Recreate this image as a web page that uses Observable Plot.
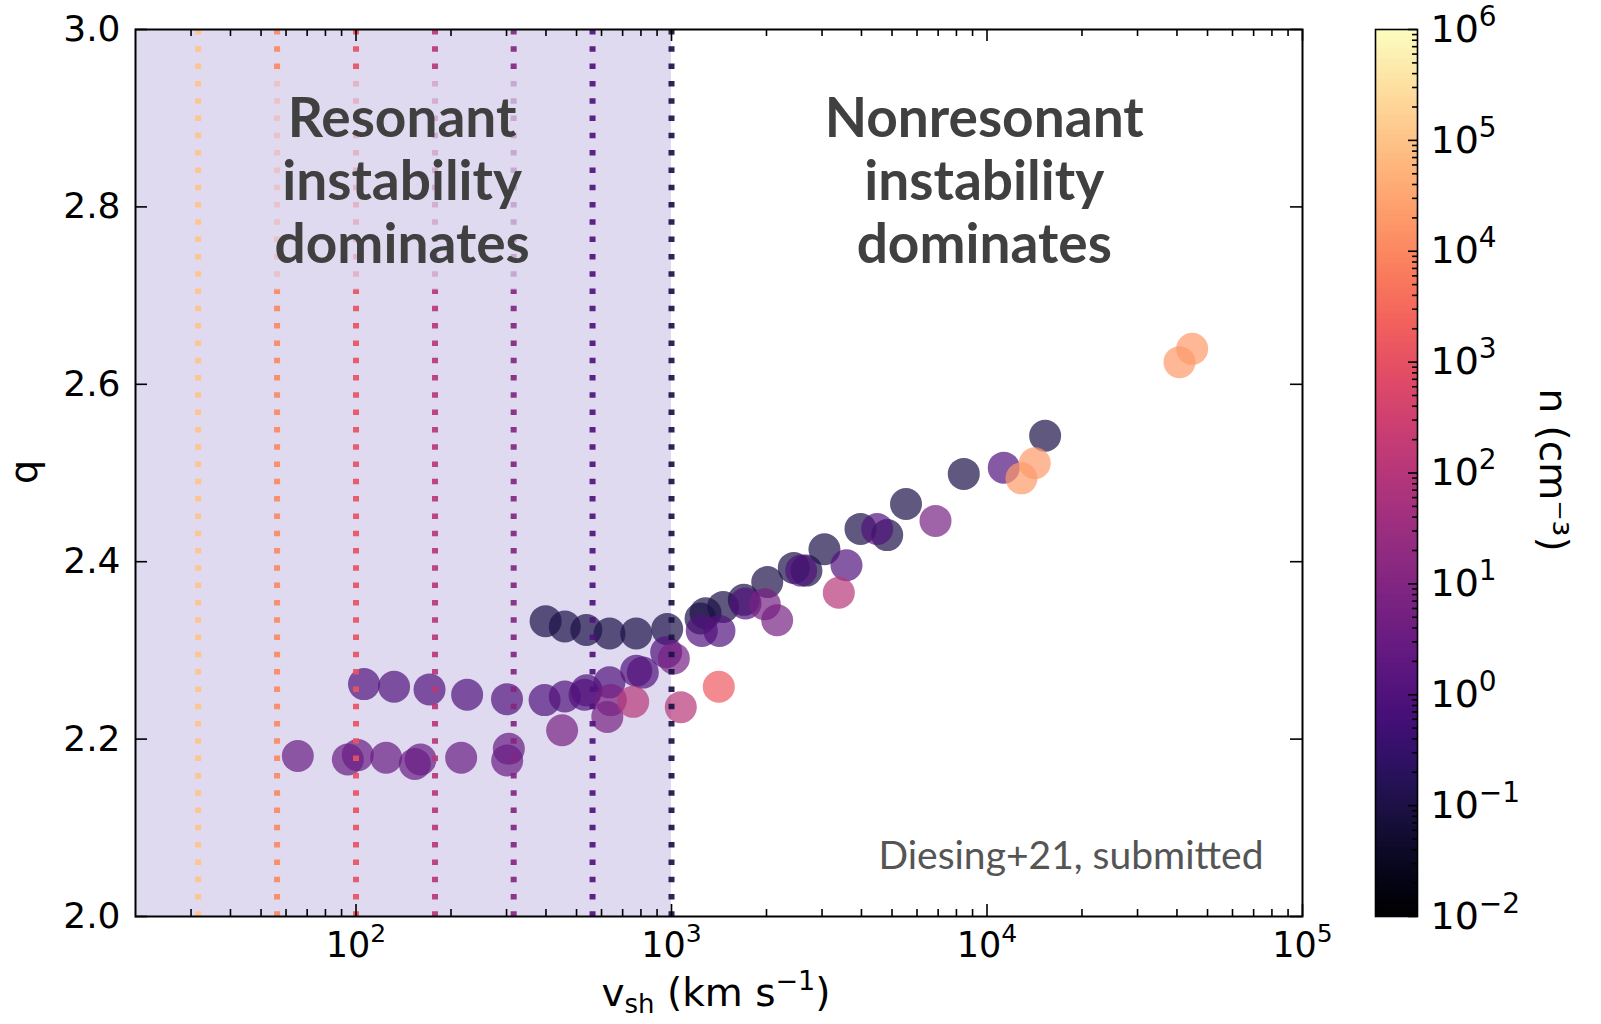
<!DOCTYPE html>
<html>
<head>
<meta charset="utf-8">
<script src="https://cdn.jsdelivr.net/npm/d3@7"></script>
<script src="https://cdn.jsdelivr.net/npm/@observablehq/plot@0.6"></script>
<style>
  html, body { margin: 0; padding: 0; background: #ffffff; }
  #chart { position: relative; width: 1601px; height: 1024px; overflow: hidden; }
  #chart svg { position: absolute; top: 0; }
</style>
</head>
<body>
<div id="chart"></div>
<script>
// Spectral index q versus shock velocity v_sh, one series per upstream density n (cm^-3)
const n01 = 0.1;
const v_n01 = [399, 459, 537, 636, 773, 969, 1236, 1282, 1458, 1695, 2011, 2441, 2677, 3053, 3972, 4827, 5537, 8441, 15284];
const q_n01 = [2.333, 2.327, 2.323, 2.319, 2.319, 2.324, 2.336, 2.342, 2.349, 2.357, 2.377, 2.393, 2.390, 2.414, 2.437, 2.430, 2.465, 2.499, 2.542];

const n1 = 1;
const v_n1 = [106, 132, 171, 225, 301, 396, 459, 538, 530, 636, 773, 811, 962, 1247, 1419, 1716, 2576, 3586, 4486, 11300];
const q_n1 = [2.262, 2.259, 2.256, 2.250, 2.245, 2.244, 2.248, 2.255, 2.250, 2.264, 2.277, 2.275, 2.298, 2.322, 2.322, 2.353, 2.390, 2.396, 2.437, 2.506];

const n3 = 3;
const v_n3 = [65.4, 94.2, 101.3, 124.6, 153.6, 160.1, 215.4, 305, 301.4];
const q_n3 = [2.181, 2.177, 2.182, 2.179, 2.172, 2.177, 2.179, 2.189, 2.176];

const n6 = 6;
const v_n6 = [450, 626, 642, 1017, 1975, 2162, 6866];
const q_n6 = [2.210, 2.225, 2.244, 2.291, 2.352, 2.334, 2.446];

const n100 = 100;
const v_n100 = [756, 1070, 3390];
const q_n100 = [2.242, 2.236, 2.365];

const n1500 = 1500;
const v_n1500 = [1412];
const q_n1500 = [2.259];

const n2e4 = 2e4;
const v_n2e4 = [12860, 14170, 40750, 44700];
const q_n2e4 = [2.494, 2.511, 2.625, 2.640];

// Resonant/nonresonant transition velocity for each density
const boundaryV = [31.6, 56.2, 100, 178, 316, 562, 1000];
const boundaryN = [1e5, 1e4, 1e3, 1e2, 1e1, 1e0, 1e-1];
const resonantSpan = [20, 1000];

// Axes
const xDomain = [20, 1e5];
const yDomain = [2.0, 3.0];
const xMajor = [100, 1000, 10000, 100000];
const xTickExp = ["2", "3", "4", "5"];
const yTicks = [2.0, 2.2, 2.4, 2.6, 2.8, 3.0];
const cbMajor = [1e-2, 1e-1, 1e0, 1e1, 1e2, 1e3, 1e4, 1e5, 1e6];
const cbTickExp = ["−2", "−1", "0", "1", "2", "3", "4", "5", "6"];

// Annotations
const resonantText = "Resonant\ninstability\ndominates";
const nonresonantText = "Nonresonant\ninstability\ndominates";
const resonantPos = [140, 2.83];
const nonresonantPos = [9800, 2.83];
const credit = "Diesing+21, submitted";

// Build the point table
const groups = [
  [n01, v_n01, q_n01], [n1, v_n1, q_n1], [n3, v_n3, q_n3], [n6, v_n6, q_n6],
  [n100, v_n100, q_n100], [n1500, v_n1500, q_n1500], [n2e4, v_n2e4, q_n2e4]
];
const points = groups.flatMap(([n, vs, qs]) => vs.map((v, i) => ({v, q: qs[i], n})));

// log-spaced minor ticks between decades
const minorBetween = (lo, hi) => {
  const out = [];
  for (let e = Math.floor(Math.log10(lo)); e < Math.ceil(Math.log10(hi)); e++) {
    for (let k = 2; k <= 9; k++) {
      const t = k * Math.pow(10, e);
      if (t > lo && t < hi) out.push(t);
    }
  }
  return out;
};
const xMinor = minorBetween(xDomain[0], xDomain[1]);
const cbMinor = minorBetween(1e-2, 1e6);

const color = {type: "log", scheme: "magma", domain: [1e-2, 1e6]};

// Layout
const W = 1340, H = 1024;
const mL = 135, mR = 38, mT = 29, mB = 108;
const frameW = W - mL - mR, frameH = H - mT - mB;
const majorLen = 12, minorLen = 7;
const tickStyle = {stroke: "black", strokeWidth: 1.6};

const main = Plot.plot({
  width: W, height: H,
  marginLeft: mL, marginRight: mR, marginTop: mT, marginBottom: mB,
  x: {type: "log", domain: xDomain},
  y: {domain: yDomain},
  color,
  style: {fontFamily: "DejaVu Sans", background: "transparent", color: "black"},
  marks: [
    Plot.rect([resonantSpan], {x1: d => d[0], x2: d => d[1], fill: "#dfdaf0"}),
    Plot.dot(points, {x: "v", y: "q", fill: "n", r: 16, fillOpacity: 0.7, stroke: null}),
    Plot.ruleX(boundaryV, {x: d => d, stroke: (d, i) => boundaryN[i], strokeWidth: 6,
      strokeDasharray: "5.5,11.8", strokeOpacity: 0.92}),
    Plot.text([resonantPos], {x: d => d[0], y: d => d[1], text: () => resonantText,
      fontFamily: "Lato", fontWeight: 700, fontSize: 55, lineHeight: 1.145, fill: "#404040",
      lineAnchor: "middle", textAnchor: "middle"}),
    Plot.text([nonresonantPos], {x: d => d[0], y: d => d[1], text: () => nonresonantText,
      fontFamily: "Lato", fontWeight: 700, fontSize: 55, lineHeight: 1.145, fill: "#404040",
      lineAnchor: "middle", textAnchor: "middle"}),
    Plot.text([credit], {text: d => d, frameAnchor: "bottom-right", dx: -39, dy: -60,
      lineAnchor: "middle", textAnchor: "end", fontFamily: "Lato", fontSize: 39, fill: "#555555"}),
    // inward ticks on all four sides
    Plot.ruleX(xMajor, {x: d => d, insetTop: frameH - majorLen, ...tickStyle}),
    Plot.ruleX(xMajor, {x: d => d, insetBottom: frameH - majorLen, ...tickStyle}),
    Plot.ruleX(xMinor, {x: d => d, insetTop: frameH - minorLen, ...tickStyle}),
    Plot.ruleX(xMinor, {x: d => d, insetBottom: frameH - minorLen, ...tickStyle}),
    Plot.ruleY(yTicks, {y: d => d, insetRight: frameW - majorLen, ...tickStyle}),
    Plot.ruleY(yTicks, {y: d => d, insetLeft: frameW - majorLen, ...tickStyle}),
    Plot.axisX({ticks: xMajor, tickFormat: d => "10^" + xTickExp[xMajor.indexOf(d)],
      tickSize: 0, tickPadding: 16, fontSize: 35, label: null}),
    Plot.axisY({ticks: yTicks, tickFormat: d => d.toFixed(1),
      tickSize: 0, tickPadding: 15, fontSize: 36, label: null}),
    Plot.frame({stroke: "black", strokeWidth: 2})
  ]
});
main.style.left = "0px";

// Colorbar strips across the density range
const cbSteps = 400;
const cbStrips = d3.range(cbSteps).map(i => {
  const a = -2 + 8 * i / cbSteps, b = -2 + 8 * (i + 1) / cbSteps;
  return {lo: Math.pow(10, a), hi: Math.pow(10, b), mid: Math.pow(10, (a + b) / 2)};
});
const cbBarW = 42;
const cb = Plot.plot({
  width: 261, height: H,
  marginLeft: 35, marginRight: 261 - 35 - cbBarW, marginTop: mT, marginBottom: mB,
  x: {domain: [0, 1], axis: null},
  y: {type: "log", domain: [1e-2, 1e6], axis: null},
  color,
  style: {fontFamily: "DejaVu Sans", background: "transparent", color: "black"},
  marks: [
    Plot.rect(cbStrips, {x1: 0, x2: 1, y1: "lo", y2: "hi", fill: "mid", shapeRendering: "crispEdges"}),
    Plot.ruleY(cbMinor, {y: d => d, insetLeft: cbBarW - 5, ...tickStyle}),
    Plot.ruleY(cbMajor, {y: d => d, insetLeft: cbBarW - 9, ...tickStyle}),
    Plot.axisY({anchor: "right", ticks: cbMajor, tickFormat: d => "10^" + cbTickExp[cbMajor.indexOf(d)],
      tickSize: 0, tickPadding: 13, fontSize: 38, label: null}),
    Plot.frame({stroke: "black", strokeWidth: 1.6})
  ]
});
cb.style.left = "1340px";

const chart = document.getElementById("chart");
chart.appendChild(main);
chart.appendChild(cb);

// Turn "10^k" tick labels into a base with a raised exponent
function superscriptTicks(svg, supSize, rise) {
  d3.select(svg).selectAll("text").each(function() {
    const s = this.textContent;
    if (!s.includes("^")) return;
    const [base, exp] = s.split("^");
    const t = d3.select(this);
    t.text(null);
    t.append("tspan").text(base);
    t.append("tspan").attr("font-size", supSize).attr("dy", -rise).text(exp);
  });
}
superscriptTicks(main, 25, 15);
superscriptTicks(cb, 28, 16);

// Soft rounded box behind the resonant annotation
const svgMain = d3.select(main);
svgMain.selectAll("text").filter(function() {
  return this.textContent.startsWith("Resonant");
}).each(function() {
  const bb = this.getBBox();
  const pad = 14;
  const rect = document.createElementNS("http://www.w3.org/2000/svg", "rect");
  rect.setAttribute("x", bb.x - pad);
  rect.setAttribute("y", bb.y - pad + 6);
  rect.setAttribute("width", bb.width + 2 * pad);
  rect.setAttribute("height", bb.height + 2 * pad - 6);
  rect.setAttribute("rx", 14);
  rect.setAttribute("fill", "#dfdaf0");
  rect.setAttribute("fill-opacity", 0.7);
  const tf = this.getAttribute("transform");
  if (tf) rect.setAttribute("transform", tf);
  this.parentNode.insertBefore(rect, this);
});

// Axis titles
svgMain.append("text")
  .attr("transform", "translate(37,472) rotate(-90)")
  .attr("text-anchor", "middle")
  .attr("font-family", "DejaVu Sans").attr("font-size", 38).attr("fill", "black")
  .text("q");

const xl = svgMain.append("text")
  .attr("x", 716).attr("y", 1006)
  .attr("text-anchor", "middle")
  .attr("font-family", "DejaVu Sans").attr("font-size", 39).attr("fill", "black");
xl.append("tspan").text("v");
xl.append("tspan").attr("font-size", 26).attr("dy", 7).text("sh");
xl.append("tspan").attr("dy", -7).text(" (km s");
xl.append("tspan").attr("font-size", 27).attr("dy", -16).text("−1");
xl.append("tspan").attr("dy", 16).text(")");

d3.select(cb).append("text")
  .attr("transform", "translate(200,470) rotate(90)")
  .attr("text-anchor", "middle")
  .attr("font-family", "DejaVu Sans").attr("font-size", 39).attr("fill", "black")
  .text("n (cm⁻³)");
</script>
</body>
</html>
